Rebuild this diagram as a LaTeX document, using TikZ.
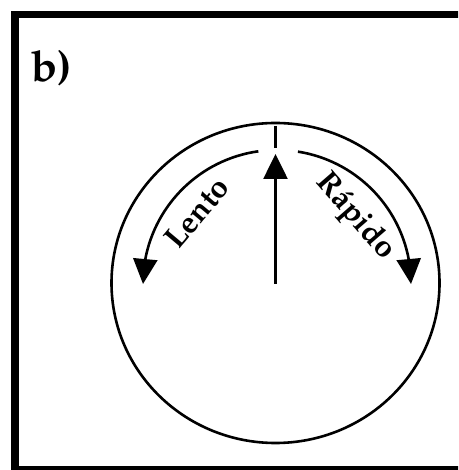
\documentclass[tikz,border=0pt]{standalone}
\usepackage[T1]{fontenc}
\usepackage{mathpazo}
\usetikzlibrary{arrows.meta,bending}

\begin{document}
\begin{tikzpicture}[
		x=1pt, y=1pt,
		dial/.style={draw=black, line width=2.6pt},
		arrow/.style={
			-{Triangle[length=25pt,width=24pt,flex]},
			draw=black,
			line width=2.6pt
		},
		arclabel/.style={font=\fontsize{31}{35}\selectfont\bfseries, inner sep=0pt},
		tag/.style={font=\fontsize{43}{48}\selectfont\bfseries, inner sep=0pt}
		]
		\useasboundingbox (0,0) rectangle (458,470);
		
		% frame, cut by the page edge on the right and bottom
		\begin{scope}
			\clip (0,0) rectangle (458,470);
			\draw[line width=7.5pt] (14.75,0.25) rectangle (490,455.5);
		\end{scope}
		
		\node[tag] (label) at (52,402) {b)};
		
		\draw[dial] (275.5,187) ellipse [x radius=164, y radius=160];
		
		\coordinate (hub) at (275.5,186);
		\coordinate (north) at (275.5,316);
		\coordinate (tickTop) at (275.5,344);
		\coordinate (tickBot) at (275.5,322);
		
		\draw[dial] (tickTop) -- (tickBot);
		\draw[arrow] (hub) -- (north);
		
		% speed arcs
		\draw[arrow] (277,186) ++(98:134) arc[start angle=98, end angle=180, radius=134];
		\draw[arrow] (277,186) ++(81:134) arc[start angle=81, end angle=0, radius=134];
		
		\node[arclabel, rotate=50] (slow) at (197,257) {Lento};
		\node[arclabel, rotate=-49] (fast) at (355,253) {R\'apido};
		
	\end{tikzpicture}
\end{document}
